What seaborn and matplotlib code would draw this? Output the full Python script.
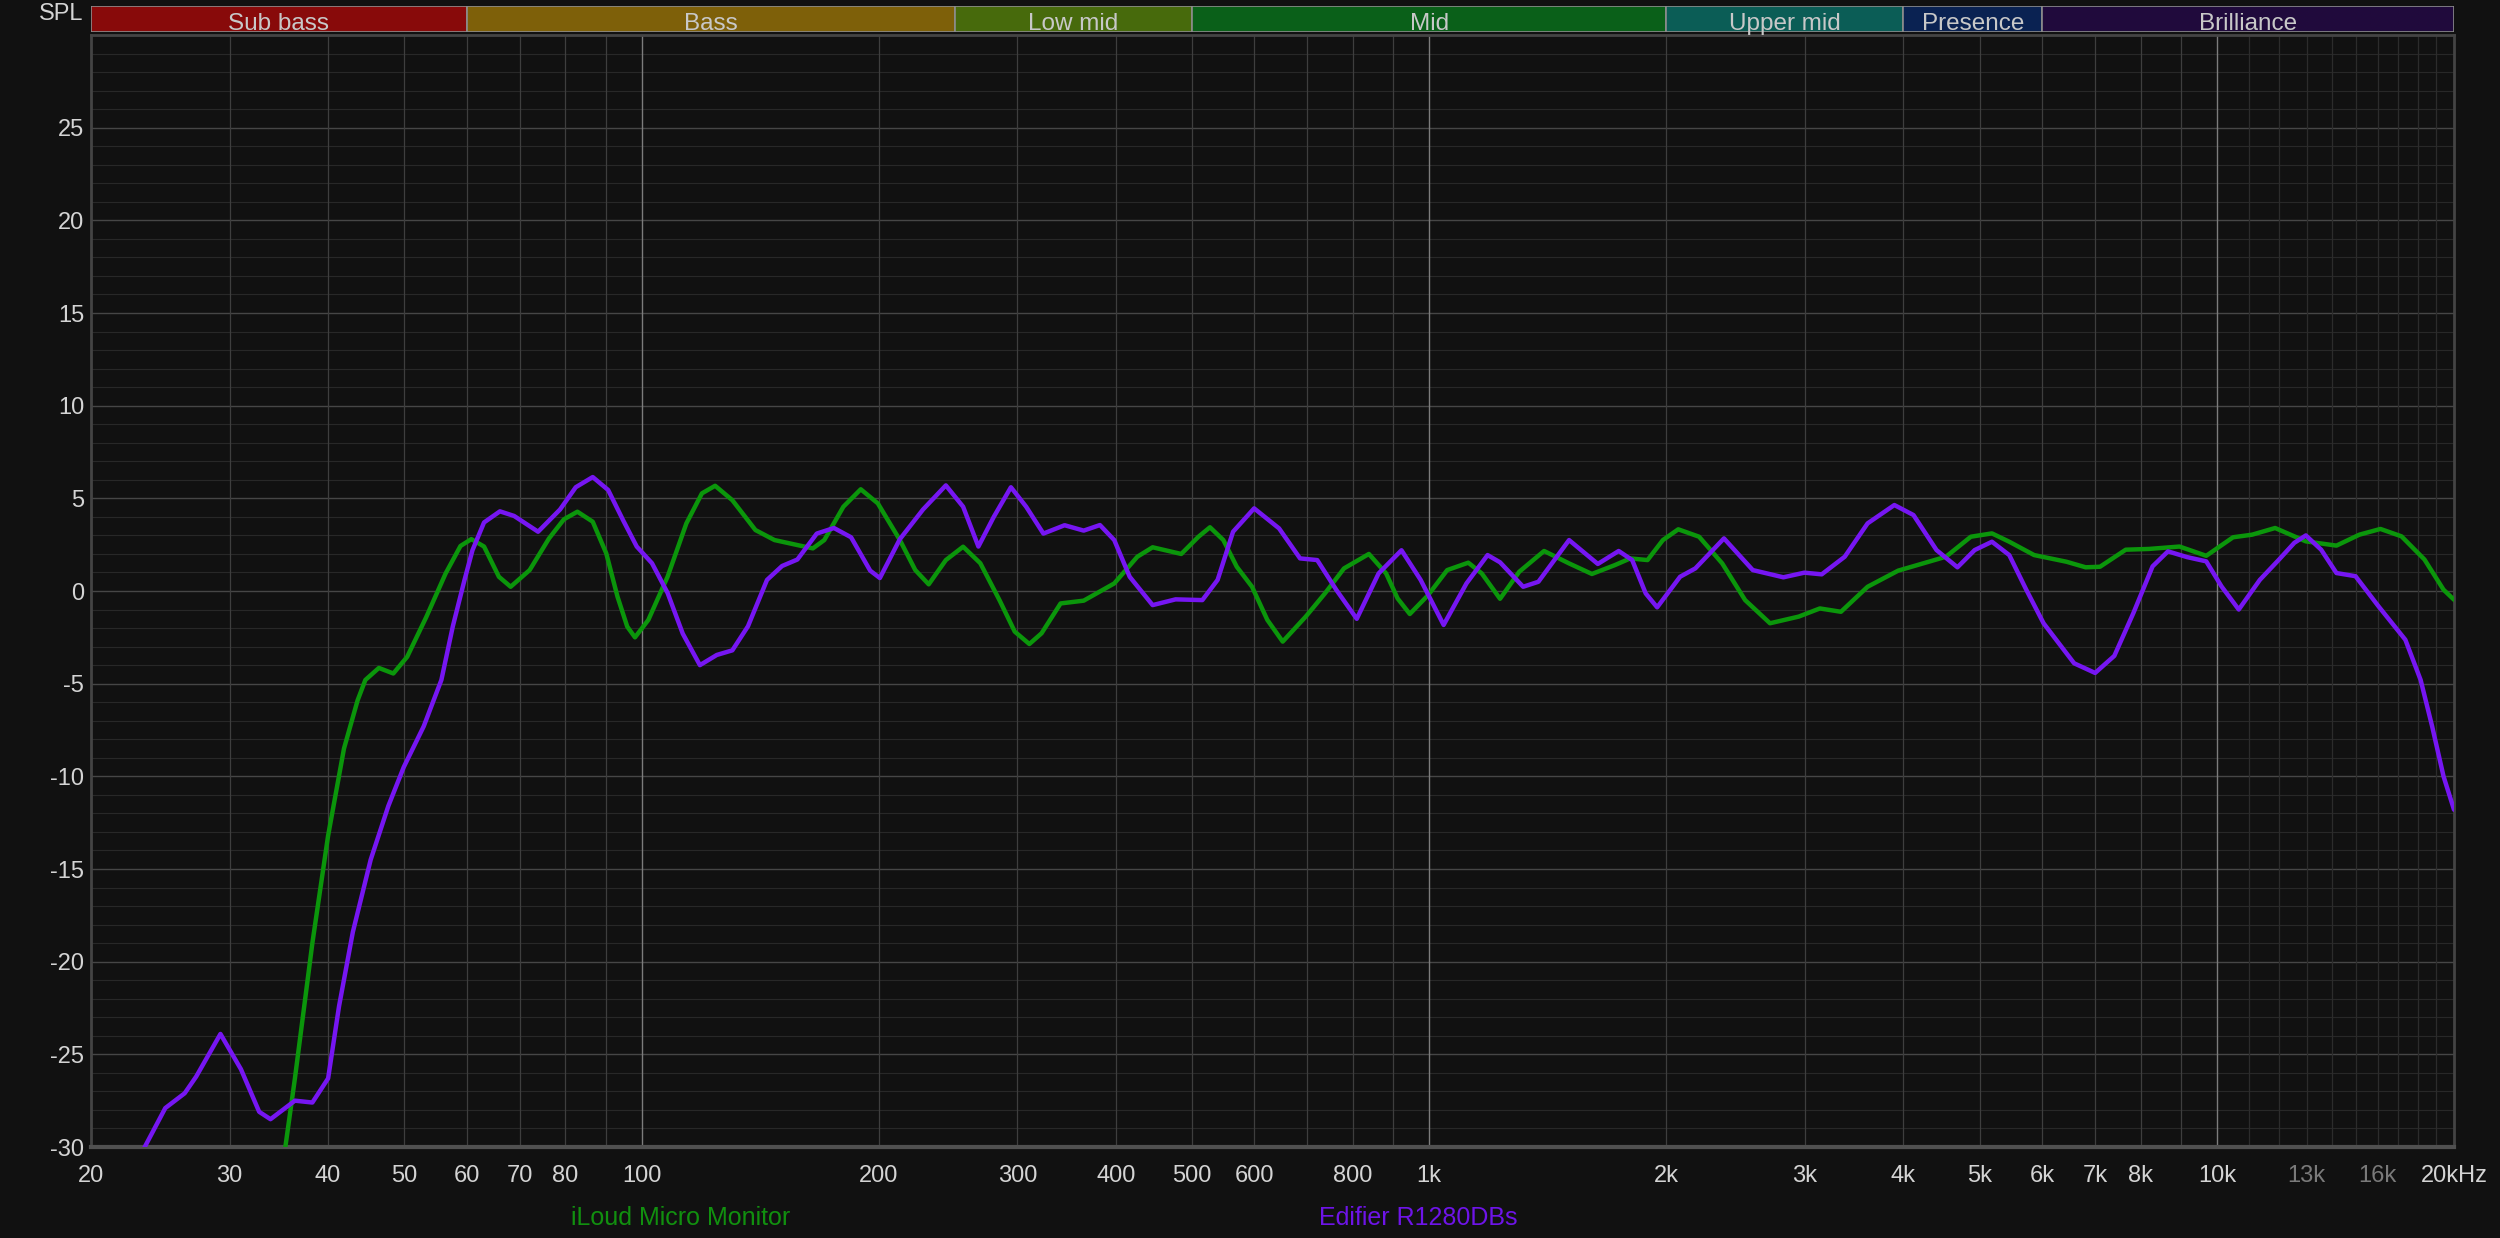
import numpy as np
import pandas as pd
import seaborn as sns
import matplotlib.pyplot as plt

# Frequency response readings (Hz, dB SPL)
iloud_freq = [34.6, 35.3, 36.3, 38.2, 40.0, 41.9, 43.6, 44.6, 46.4, 48.4, 50.4, 53.3, 56.4, 58.9,
              60.8, 63.1, 65.9, 68.2, 72.1, 76.3, 79.7, 82.9, 86.7, 90.2, 93.2, 95.9, 98.1, 102.0,
              107.9, 114.0, 119.3, 124.0, 130.4, 139.5, 147.5, 157.7, 165.0, 170.6, 180.4, 189.8,
              199.5, 212.8, 222.6, 231.5, 243.4, 256, 269.2, 284.7, 297.7, 310.7, 322.0, 340.4,
              364.2, 398.2, 426.0, 445.5, 484.4, 509.4, 526.8, 547.8, 569.7, 595.7, 623.0, 651.6,
              697.0, 737.2, 779.5, 838.3, 881.6, 911.7, 944.8, 996.8, 1054, 1121, 1166, 1230, 1301,
              1399, 1505, 1609, 1721, 1800, 1893, 1980, 2071, 2201, 2355, 2518, 2708, 2945, 3133,
              3332, 3602, 3939, 4212, 4529, 4871, 5181, 5450, 5861, 6442, 6813, 7106, 7661, 8195,
              8966, 9694, 10484, 11085, 11856, 12970, 14184, 15166, 16130, 17155, 18346, 19398, 20000]
iloud_spl = [-32.5, -30.0, -26.3, -19.0, -13.2, -8.5, -5.9, -4.8, -4.15, -4.45, -3.55, -1.4, 0.95, 2.43,
             2.8, 2.4, 0.77, 0.23, 1.13, 2.84, 3.87, 4.28, 3.74, 2.03, -0.3, -1.92, -2.5, -1.56,
             0.77, 3.65, 5.27, 5.68, 4.9, 3.29, 2.75, 2.48, 2.3, 2.75, 4.55, 5.49,
             4.73, 2.75, 1.13, 0.36, 1.67, 2.39, 1.5, -0.49, -2.19, -2.86, -2.28, -0.67,
             -0.52, 0.41, 1.85, 2.36, 2.0, 2.93, 3.44, 2.75, 1.31, 0.23, -1.56, -2.73,
             -1.38, -0.13, 1.22, 2.0, 0.95, -0.4, -1.24, -0.22, 1.13, 1.53, 0.95, -0.42, 1.04,
             2.16, 1.49, 0.92, 1.4, 1.76, 1.67, 2.75, 3.33, 2.93, 1.49, -0.49, -1.74, -1.38, -0.94,
             -1.12, 0.23, 1.1, 1.46, 1.85, 2.93, 3.11, 2.66, 1.94, 1.58, 1.28, 1.31, 2.23, 2.27,
             2.4, 1.9, 2.9, 3.04, 3.4, 2.68, 2.45, 3.04, 3.35, 2.95, 1.7, 0.07, -0.47]

edifier_freq = [22.5, 23.4, 24.85, 26.3, 27.2, 29.2, 31.0, 32.7, 33.8, 36.3, 38.2, 40.0, 41.3, 43.0,
                45.3, 47.7, 49.9, 52.9, 55.7, 57.6, 59.6, 61.0, 63.1, 66.1, 68.9, 73.9, 78.8, 82.5,
                86.7, 90.7, 94.8, 98.6, 103.1, 107.9, 112.8, 118.6, 124.6, 130.4, 136.5, 144.3, 150.8,
                157.7, 166.9, 175.5, 184.5, 195.1, 200.7, 212.8, 227.7, 243.4, 256, 267.7, 280, 294.4,
                307.8, 323.7, 344.4, 364.2, 381.9, 398.2, 416.6, 445.5, 476.4, 515.2, 538.7, 563.6,
                599.4, 644.7, 685.5, 720.8, 762.5, 809.1, 862.5, 922.1, 975.2, 1043, 1115, 1186, 1230,
                1316, 1376, 1505, 1637, 1740, 1810, 1883, 1947, 2082, 2177, 2367, 2575, 2816, 2994,
                3150, 3369, 3602, 3895, 4119, 4406, 4684, 4926, 5181, 5450, 5728, 6025, 6588, 7005,
                7409, 7834, 8286, 8667, 9165, 9694, 10136, 10660, 11337, 11993, 12540, 12970, 13563,
                14184, 14997, 16043, 17349, 18142, 18761, 19398, 20000]
edifier_spl = [-32.0, -30.0, -27.9, -27.1, -26.2, -23.9, -25.8, -28.1, -28.5, -27.5, -27.6, -26.3, -22.4, -18.4,
               -14.5, -11.6, -9.5, -7.3, -4.8, -1.9, 0.6, 2.2, 3.7, 4.3, 4.05, 3.2, 4.4, 5.6,
               6.15, 5.45, 3.8, 2.4, 1.5, -0.1, -2.3, -4.0, -3.45, -3.2, -1.9, 0.6, 1.35,
               1.7, 3.1, 3.4, 2.9, 1.1, 0.7, 2.8, 4.4, 5.7, 4.55, 2.4, 4.0, 5.6,
               4.55, 3.1, 3.55, 3.26, 3.56, 2.75, 0.77, -0.76, -0.45, -0.49, 0.6, 3.2,
               4.46, 3.38, 1.76, 1.67, 0.05, -1.5, 0.95, 2.2, 0.6, -1.83, 0.41, 1.94, 1.55,
               0.23, 0.5, 2.75, 1.46, 2.16, 1.67, -0.13, -0.88, 0.77, 1.22, 2.84, 1.13, 0.74, 0.99,
               0.9, 1.85, 3.65, 4.64, 4.1, 2.21, 1.28, 2.21, 2.66, 1.94, 0.07, -1.74, -3.9, -4.42,
               -3.5, -1.19, 1.33, 2.14, 1.83, 1.6, 0.25, -1.0, 0.6, 1.7, 2.6, 3.0, 2.23,
               0.97, 0.8, -0.83, -2.63, -4.8, -7.3, -10.0, -11.8]

speakers = ['iLoud Micro Monitor', 'Edifier R1280DBs']
speaker_colors = ['#0b960b', '#7616f2']
legend_colors = ['#11900f', '#6e14e8']

band_names = ['Sub bass', 'Bass', 'Low mid', 'Mid', 'Upper mid', 'Presence', 'Brilliance']
band_edges = [20, 60, 250, 500, 2000, 4000, 6000, 20000]
band_colors = ['#880a0a', '#7e6009', '#476a0c', '#0a6019', '#0b5d56', '#0a2252', '#200a3c']

x_ticks = [20, 30, 40, 50, 60, 70, 80, 100, 200, 300, 400, 500, 600, 800,
           1000, 2000, 3000, 4000, 5000, 6000, 7000, 8000, 10000, 13000, 16000, 20000]
x_labels = ['20', '30', '40', '50', '60', '70', '80', '100', '200', '300', '400', '500', '600', '800',
            '1k', '2k', '3k', '4k', '5k', '6k', '7k', '8k', '10k', '13k', '16k', '20kHz']
dim_labels = ['13k', '16k']
y_ticks = [-30, -25, -20, -15, -10, -5, 0, 5, 10, 15, 20, 25]

df = pd.concat([
    pd.DataFrame({'freq': iloud_freq, 'spl': iloud_spl, 'speaker': speakers[0]}),
    pd.DataFrame({'freq': edifier_freq, 'spl': edifier_spl, 'speaker': speakers[1]}),
], ignore_index=True)

sns.set_theme(style='dark')
plt.rcParams['font.family'] = ['Liberation Sans', 'DejaVu Sans']
plt.rcParams['axes.unicode_minus'] = False

bg = '#111111'
txt = '#d4d4d4'
fig = plt.figure(figsize=(25, 12.38), dpi=100, facecolor=bg)
ax = fig.add_axes([0.0364, 0.0735, 0.9452, 0.8982])
ax.set_facecolor(bg)
ax.set_xscale('log')
ax.set_xlim(20, 20000)
ax.set_ylim(-30, 30)

# grid: 1 dB minor, 5 dB major, vertical at every 1..9 multiple
for y in range(-30, 31):
    major = y % 5 == 0
    ax.axhline(y, color='#464646' if major else '#282828', lw=1.0 if major else 0.8, zorder=0)
for dec in [10, 100, 1000, 10000]:
    for m in range(1, 10):
        f = dec * m
        if f <= 20 or f >= 20000:
            continue
        if m == 1:
            ax.axvline(f, color='#7c7c7c', lw=1.0, zorder=0)
        else:
            ax.axvline(f, color='#3e3e3e', lw=0.9, zorder=0)
for f in range(11000, 20000, 1000):
    ax.axvline(f, color='#2c2c2c', lw=0.9, zorder=0)

sns.lineplot(data=df, x='freq', y='spl', hue='speaker', palette=speaker_colors,
             sort=False, estimator=None, lw=3.2, legend=False, ax=ax, zorder=3,
             solid_joinstyle='round', solid_capstyle='round')

ax.set_xticks(x_ticks, labels=x_labels)
ax.set_xticks([], minor=True)
ax.set_yticks(y_ticks)
ax.tick_params(axis='x', length=0, pad=13, labelsize=17, labelcolor=txt)
ax.tick_params(axis='y', length=0, pad=5, labelsize=17, labelcolor=txt)
for lab in ax.get_xticklabels():
    if lab.get_text() in dim_labels:
        lab.set_color('#7a7a7a')
ax.set_xlabel('')
ax.set_ylabel('')
for side in ['left', 'right', 'top']:
    ax.spines[side].set_color('#444444')
    ax.spines[side].set_linewidth(2)
ax.spines['bottom'].set_color('#505050')
ax.spines['bottom'].set_linewidth(3)

# frequency band strip
bax = fig.add_axes([0.0364, 0.9741, 0.9452, 0.0212])
bax.set_xscale('log')
bax.set_xlim(20, 20000)
bax.set_ylim(0, 1)
bax.axis('off')
for name, lo, hi, col in zip(band_names, band_edges[:-1], band_edges[1:], band_colors):
    bax.axvspan(lo, hi, facecolor=col, edgecolor='#8c8c8c', lw=1.2)
    bax.text(np.sqrt(lo * hi), 0.32, name, ha='center', va='center', fontsize=17.5, color='#c8c8c8')

fig.text(0.0335, 0.989, 'SPL', ha='right', va='center', fontsize=17, color=txt)

# legend labels under the axis
fig.text(0.2724, 0.016, speakers[0], ha='center', va='center', fontsize=18, color=legend_colors[0])
fig.text(0.5672, 0.016, speakers[1], ha='center', va='center', fontsize=18, color=legend_colors[1])

fig.savefig('out.png', dpi=100, facecolor=bg)
